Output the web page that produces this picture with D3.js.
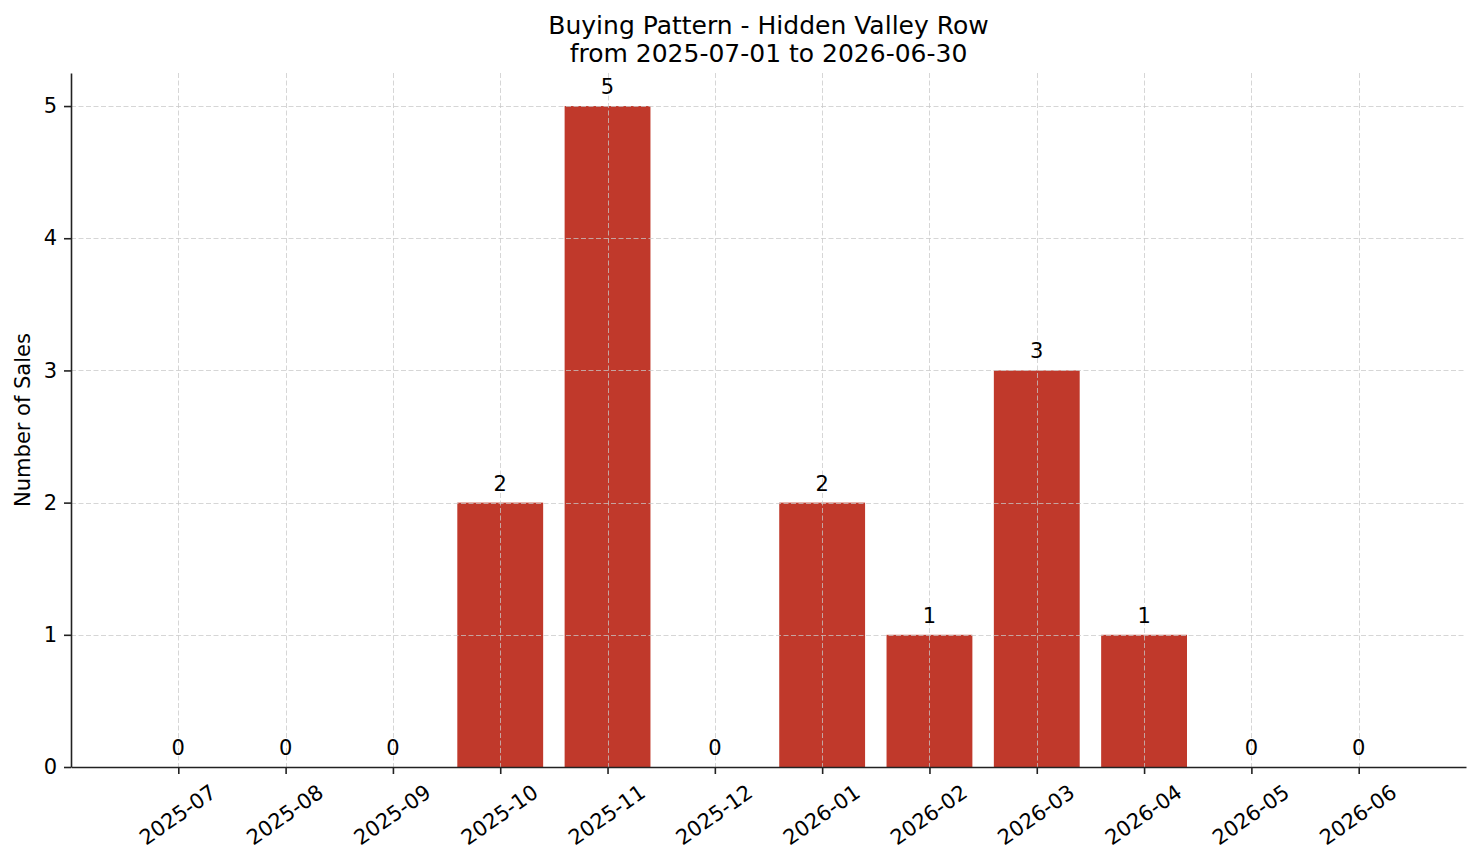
<!DOCTYPE html>
<html>
<head>
<meta charset="utf-8">
<script src="https://cdn.jsdelivr.net/npm/d3@7"></script>
<style>
  body { margin: 0; background: #fff; }
  text { font-family: "DejaVu Sans", sans-serif; fill: #000; }
</style>
</head>
<body>
<div id="chart"></div>
<script>
// data
const months = ["2025-07", "2025-08", "2025-09", "2025-10", "2025-11", "2025-12",
                "2026-01", "2026-02", "2026-03", "2026-04", "2026-05", "2026-06"];
const sales = [0, 0, 0, 2, 5, 0, 2, 1, 3, 1, 0, 0];
const yTicks = [0, 1, 2, 3, 4, 5];
const titleLines = ["Buying Pattern - Hidden Valley Row", "from 2025-07-01 to 2026-06-30"];

const W = 1481, H = 863;
const margin = { left: 71, right: 15, top: 73, bottom: 96 };
const width = W - margin.left - margin.right;
const height = H - margin.top - margin.bottom;
const barColor = "#c0392b";
const fontSize = "21px";

const svg = d3.select("#chart")
    .append("svg")
    .attr("width", W)
    .attr("height", H);

const g = svg.append("g")
    .attr("transform", `translate(${margin.left}, ${margin.top})`);

// x: category index with one unit of margin on each side
const x = d3.scaleLinear()
    .domain([-1, months.length])
    .range([0, width]);

const y = d3.scaleLinear()
    .domain([0, 5.25])
    .range([height, 0]);

const barW = x(0.8) - x(0);

// bars
g.selectAll("rect.bar")
    .data(sales)
    .enter()
    .append("rect")
    .attr("class", "bar")
    .attr("x", (d, i) => x(i) - barW / 2)
    .attr("y", d => y(d))
    .attr("width", barW)
    .attr("height", d => y(0) - y(d))
    .attr("fill", barColor);

// grid on top of bars
const grid = g.append("g")
    .attr("stroke", "#c8c8c8")
    .attr("stroke-opacity", 0.75)
    .attr("stroke-width", 1)
    .attr("stroke-dasharray", "5,2.5");

grid.selectAll("line.gy")
    .data(yTicks.filter(d => d > 0))
    .enter()
    .append("line")
    .attr("x1", 0)
    .attr("x2", width)
    .attr("y1", d => Math.round(y(d)) + 0.5)
    .attr("y2", d => Math.round(y(d)) + 0.5);

grid.selectAll("line.gx")
    .data(months)
    .enter()
    .append("line")
    .attr("y1", 0)
    .attr("y2", height)
    .attr("x1", (d, i) => Math.round(x(i)) + 0.5)
    .attr("x2", (d, i) => Math.round(x(i)) + 0.5);

// value labels
g.selectAll("text.val")
    .data(sales)
    .enter()
    .append("text")
    .attr("class", "val")
    .attr("x", (d, i) => x(i))
    .attr("y", d => y(d) - 12)
    .attr("text-anchor", "middle")
    .style("font-size", fontSize)
    .text(d => d);

// y axis
const yAxis = g.append("g")
    .call(d3.axisLeft(y).tickValues(yTicks).tickFormat(d3.format("d"))
        .tickSize(7).tickSizeOuter(0).tickPadding(7));
yAxis.select(".domain").attr("stroke", "#222").attr("stroke-width", 1.6);
yAxis.selectAll(".tick line").attr("stroke", "#222").attr("stroke-width", 1.6);
yAxis.selectAll(".tick text")
    .style("font-family", "DejaVu Sans")
    .style("font-size", fontSize)
    .attr("fill", "#000");

// x axis
const xAxis = g.append("g")
    .attr("transform", `translate(0, ${height})`)
    .call(d3.axisBottom(x).tickValues(d3.range(months.length)).tickFormat(i => months[i])
        .tickSize(7).tickSizeOuter(0));
xAxis.select(".domain").attr("stroke", "#222").attr("stroke-width", 1.6);
xAxis.selectAll(".tick line").attr("stroke", "#222").attr("stroke-width", 1.6);
xAxis.selectAll(".tick text")
    .style("font-family", "DejaVu Sans")
    .style("font-size", fontSize)
    .attr("fill", "#000")
    .attr("text-anchor", "middle")
    .attr("dy", null)
    .attr("dominant-baseline", "central")
    .attr("x", -1)
    .attr("y", 48)
    .attr("transform", "rotate(-35, -1, 48)");

// y label
svg.append("text")
    .attr("transform", `translate(23, ${margin.top + height / 2}) rotate(-90)`)
    .attr("text-anchor", "middle")
    .attr("dominant-baseline", "central")
    .style("font-size", fontSize)
    .text("Number of Sales");

// title
svg.selectAll("text.title")
    .data(titleLines)
    .enter()
    .append("text")
    .attr("class", "title")
    .attr("x", margin.left + width / 2)
    .attr("y", (d, i) => 34 + i * 28)
    .attr("text-anchor", "middle")
    .style("font-size", "25px")
    .text(d => d);
</script>
</body>
</html>
